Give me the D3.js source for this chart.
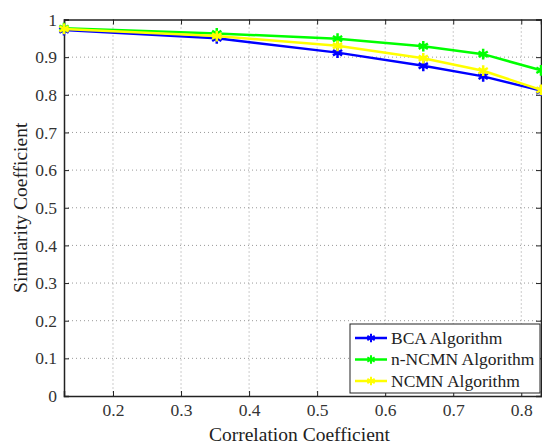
<!DOCTYPE html>
<html>
<head>
<meta charset="utf-8">
<script src="https://cdn.jsdelivr.net/npm/d3@7"></script>
<style>
  body { margin: 0; background: #fff; }
</style>
</head>
<body>
<div id="chart"></div>
<script>
// data
const corr = [0.128, 0.3525, 0.53, 0.656, 0.744, 0.829];
const bca = [0.972, 0.950, 0.912, 0.877, 0.849, 0.811];
const nNcmn = [0.977, 0.963, 0.949, 0.929, 0.908, 0.865];
const ncmn = [0.975, 0.956, 0.930, 0.897, 0.864, 0.813];
const xTicks = [0.2, 0.3, 0.4, 0.5, 0.6, 0.7, 0.8];
const yTicks = [0, 0.1, 0.2, 0.3, 0.4, 0.5, 0.6, 0.7, 0.8, 0.9, 1];
const seriesNames = ['BCA Algorithm', 'n-NCMN Algorithm', 'NCMN Algorithm'];
const seriesColors = ['#0000ff', '#00ff00', '#ffff00'];

const FONT = '"Liberation Serif", "Times New Roman", serif';
const width = 542, height = 444;
const margin = {top: 19.5, right: 1, bottom: 48, left: 64};
const w = width - margin.left - margin.right,
      h = height - margin.top - margin.bottom;

const svg = d3.select('#chart').append('svg')
    .attr('width', width)
    .attr('height', height);

const g = svg.append('g')
    .attr('transform', 'translate(' + margin.left + ',' + margin.top + ')');

const x = d3.scaleLinear().domain([0.128, 0.829]).range([0, w]);
const y = d3.scaleLinear().domain([0, 1]).range([h, 0]);

// grid
g.append('g').selectAll('line')
    .data(xTicks)
    .enter().append('line')
    .attr('x1', d => x(d)).attr('x2', d => x(d))
    .attr('y1', 0).attr('y2', h)
    .style('stroke', '#999').style('stroke-dasharray', '1,3');
g.append('g').selectAll('line')
    .data(yTicks.filter(d => d > 0 && d < 1))
    .enter().append('line')
    .attr('x1', 0).attr('x2', w)
    .attr('y1', d => y(d)).attr('y2', d => y(d))
    .style('stroke', '#999').style('stroke-dasharray', '1,3');

// axes
const xAxis = g.append('g')
    .attr('transform', 'translate(0,' + h + ')')
    .call(d3.axisBottom(x).tickValues(xTicks).tickSize(-5).tickPadding(8).tickFormat(d3.format('.1f')));
const xTop = g.append('g')
    .call(d3.axisTop(x).tickValues(xTicks).tickSize(-5).tickFormat(''));
const yAxis = g.append('g')
    .call(d3.axisLeft(y).tickValues(yTicks).tickSize(-5).tickPadding(7).tickFormat(d => d === 0 || d === 1 ? d3.format('d')(d) : d3.format('.1f')(d)));
const yRight = g.append('g')
    .attr('transform', 'translate(' + w + ',0)')
    .call(d3.axisRight(y).tickValues(yTicks).tickSize(-5).tickFormat(''));

[xAxis, xTop, yAxis, yRight].forEach(a => {
    a.attr('font-family', FONT).attr('font-size', 17.5);
    a.select('.domain').style('stroke', '#222').style('stroke-width', 1.5);
    a.selectAll('.tick line').style('stroke', '#222');
    a.selectAll('text').attr('fill', '#333');
});

// lines
const seriesData = [bca, nNcmn, ncmn];
const line = d3.line()
    .x((d, i) => x(corr[i]))
    .y(d => y(d));

const star = d3.symbol().type(d3.symbolAsterisk).size(80);

seriesData.forEach((vals, si) => {
    g.append('path')
        .datum(vals)
        .attr('d', line)
        .style('fill', 'none')
        .style('stroke', seriesColors[si])
        .style('stroke-width', 2.5);
    g.append('g').selectAll('path')
        .data(vals)
        .enter().append('path')
        .attr('transform', (d, i) => 'translate(' + x(corr[i]) + ',' + y(d) + ')')
        .attr('d', star)
        .style('fill', 'none')
        .style('stroke', seriesColors[si])
        .style('stroke-width', 2.5);
});

// legend
const lg = svg.append('g').attr('transform', 'translate(350,324)');
lg.append('rect')
    .attr('width', 190).attr('height', 69)
    .style('fill', '#fff').style('stroke', '#222').style('stroke-width', 1);
seriesNames.forEach((name, i) => {
    const ly = 14 + i * 21.5;
    lg.append('line')
        .attr('x1', 5).attr('x2', 37)
        .attr('y1', ly).attr('y2', ly)
        .style('stroke', seriesColors[i]).style('stroke-width', 2.5);
    lg.append('path')
        .attr('transform', 'translate(21,' + ly + ')')
        .attr('d', d3.symbol().type(d3.symbolAsterisk).size(50))
        .style('fill', 'none').style('stroke', seriesColors[i]).style('stroke-width', 2);
    lg.append('text')
        .attr('x', 41).attr('y', ly + 5.5)
        .attr('font-family', FONT)
        .attr('font-size', 17.5)
        .attr('fill', '#222')
        .text(name);
});

// axis titles
svg.append('text')
    .attr('x', margin.left + w / 2 - 3).attr('y', 441)
    .attr('text-anchor', 'middle')
    .attr('font-family', FONT)
    .attr('font-size', 19.5)
    .attr('fill', '#222')
    .text('Correlation Coefficient');
svg.append('text')
    .attr('transform', 'translate(27,' + (margin.top + h / 2) + ') rotate(-90)')
    .attr('text-anchor', 'middle')
    .attr('font-family', FONT)
    .attr('font-size', 19.5)
    .attr('fill', '#222')
    .text('Similarity Coefficient');
</script>
</body>
</html>
